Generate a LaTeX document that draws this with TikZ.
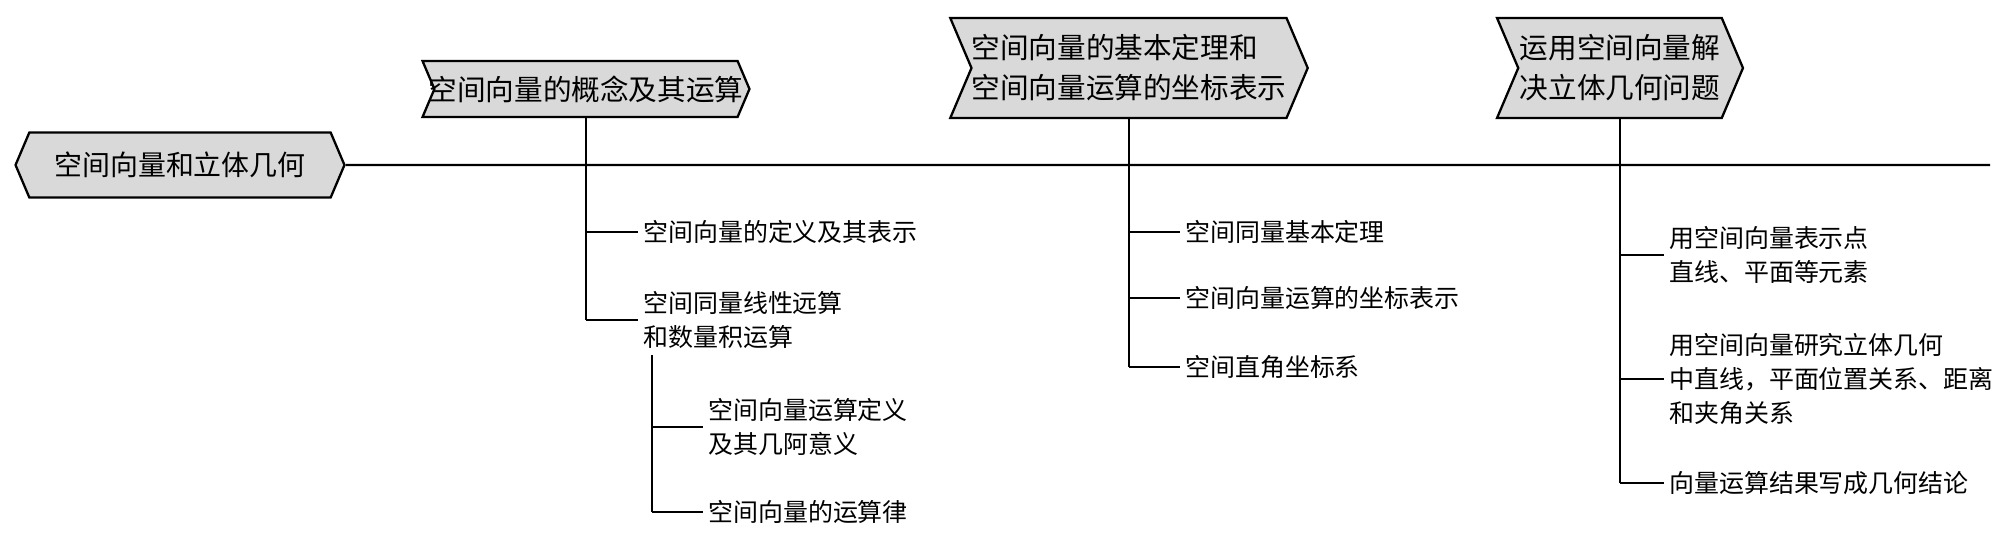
\documentclass[tikz,border=0pt]{standalone}
\usepackage{fontspec}
\usepackage{xcolor}
\usepackage{tikz}
\usetikzlibrary{positioning,shapes.symbols}
\newfontfamily\cjk{Noto Sans CJK SC}
\definecolor{headgray}{RGB}{217,217,217}
\tikzset{
  headbox/.style={signal, signal from=west, signal to=east, signal pointer angle=134,
                  draw, line width=1.3pt, fill=headgray, align=left, inner sep=0pt,
                  font=\cjk\fontsize{16.3}{22.8}\selectfont},
  rootbox/.style={headbox, signal from=nowhere, signal to=west and east,
                  font=\cjk\fontsize{15.9}{20}\selectfont},
  leaf/.style={anchor=west, align=left, inner sep=2.8pt,
               font=\cjk\fontsize{14.2}{19.4}\selectfont},
  branch/.style={line width=1.4pt},
}

\begin{document}
\begin{tikzpicture}[x=0.02cm, y=-0.02cm]
  \useasboundingbox (0,0) rectangle (2000,545);
  % spine
  \node[rootbox, minimum width=6.58cm, minimum height=1.3cm] (root) at (180,165) {空间向量和立体几何};
  \coordinate (spineend) at (1990,165);
  \draw[branch] (root) -- (spineend);

  % headers
  \node[headbox, inner xsep=-0.12cm, minimum width=6.54cm, minimum height=1.12cm] (h1) at (586,89) {空间向量的概念及其运算};
  \node[headbox, minimum width=6.96cm, minimum height=2cm] (h2) at (1129,68) {空间向量的基本定理和\\空间向量运算的坐标表示};
  \node[headbox, minimum width=4.92cm, minimum height=2cm] (h3) at (1620,68) {运用空间向量解\\决立体几何问题};

  % first branch
  \node[leaf] (a1) at (638,232) {空间向量的定义及其表示};
  \node[leaf] (a2) at (638,320) {空间同量线性远算\\和数量积运算};
  \draw[branch] (h1.south) -- (h1.south |- a2.west);
  \draw[branch] (h1.south |- a1.west) -- (a1.west);
  \draw[branch] (h1.south |- a2.west) -- (a2.west);
  \coordinate (sub) at (652,355);
  \node[leaf] (b1) at (703,427) {空间向量运算定义\\及其几阿意义};
  \node[leaf] (b2) at (703,512) {空间向量的运算律};
  \draw[branch] (sub) -- (sub |- b2.west);
  \draw[branch] (sub |- b1.west) -- (b1.west);
  \draw[branch] (sub |- b2.west) -- (b2.west);

  % second branch
  \node[leaf] (c1) at (1180,232) {空间同量基本定理};
  \node[leaf] (c2) at (1180,298) {空间向量运算的坐标表示};
  \node[leaf] (c3) at (1180,367) {空间直角坐标系};
  \draw[branch] (h2.south) -- (h2.south |- c3.west);
  \draw[branch] (h2.south |- c1.west) -- (c1.west);
  \draw[branch] (h2.south |- c2.west) -- (c2.west);
  \draw[branch] (h2.south |- c3.west) -- (c3.west);

  % third branch
  \node[leaf] (d1) at (1664,255) {用空间向量表示点\\直线、平面等元素};
  \node[leaf] (d2) at (1664,379) {用空间向量研究立体几何\\中直线，平面位置关系、距离\\和夹角关系};
  \node[leaf] (d3) at (1664,483) {向量运算结果写成几何结论};
  \draw[branch] (h3.south) -- (h3.south |- d3.west);
  \draw[branch] (h3.south |- d1.west) -- (d1.west);
  \draw[branch] (h3.south |- d2.west) -- (d2.west);
  \draw[branch] (h3.south |- d3.west) -- (d3.west);
\end{tikzpicture}
\end{document}
